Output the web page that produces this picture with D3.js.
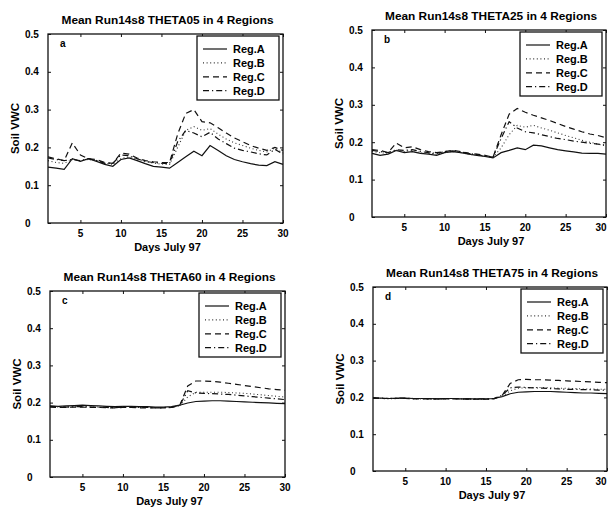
<!DOCTYPE html>
<html>
<head>
<meta charset="utf-8">
<script src="https://cdn.jsdelivr.net/npm/d3@7"></script>
<style>
  html, body { margin: 0; padding: 0; background: #fff; }
  svg { display: block; }
  text { font-family: "Liberation Sans", Arial, Helvetica, sans-serif; fill: #000; }
</style>
</head>
<body>
<svg id="chart" width="608" height="512"></svg>
<script>
// Days of July 1997
const days = [1,2,3,4,5,6,7,8,9,10,11,12,13,14,15,16,17,18,19,20,21,22,23,24,25,26,27,28,29,30];

const regionNames = ["Reg.A", "Reg.B", "Reg.C", "Reg.D"];
const xTicks = [5, 10, 15, 20, 25, 30];
const yTicks = [0, 0.1, 0.2, 0.3, 0.4, 0.5];
const yTickLabels = ["0", "0.1", "0.2", "0.3", "0.4", "0.5"];

// THETA05 – mean soil VWC per region
const theta05RegA = [0.148,0.145,0.142,0.170,0.163,0.170,0.163,0.155,0.150,0.168,0.172,0.165,0.157,0.150,0.148,0.145,0.160,0.175,0.190,0.178,0.205,0.192,0.178,0.168,0.162,0.157,0.153,0.152,0.162,0.155];
const theta05RegB = [0.165,0.160,0.158,0.168,0.165,0.168,0.165,0.158,0.155,0.170,0.175,0.170,0.163,0.158,0.156,0.155,0.200,0.245,0.255,0.245,0.250,0.235,0.222,0.212,0.205,0.198,0.192,0.188,0.198,0.185];
const theta05RegC = [0.175,0.170,0.165,0.212,0.180,0.170,0.168,0.160,0.158,0.185,0.182,0.172,0.165,0.162,0.160,0.160,0.235,0.290,0.300,0.268,0.265,0.252,0.238,0.225,0.215,0.205,0.198,0.192,0.200,0.192];
const theta05RegD = [0.172,0.168,0.165,0.168,0.165,0.170,0.165,0.158,0.158,0.180,0.178,0.170,0.163,0.160,0.158,0.157,0.215,0.245,0.238,0.228,0.240,0.222,0.210,0.198,0.192,0.188,0.183,0.180,0.195,0.182];

// THETA25
const theta25RegA = [0.170,0.165,0.168,0.178,0.172,0.175,0.170,0.168,0.165,0.172,0.175,0.172,0.168,0.165,0.162,0.158,0.172,0.178,0.185,0.180,0.192,0.190,0.185,0.180,0.177,0.174,0.171,0.170,0.170,0.168];
const theta25RegB = [0.175,0.172,0.170,0.178,0.175,0.178,0.172,0.170,0.168,0.172,0.175,0.172,0.168,0.165,0.162,0.160,0.185,0.220,0.245,0.240,0.245,0.238,0.232,0.225,0.218,0.212,0.205,0.200,0.195,0.190];
const theta25RegC = [0.180,0.178,0.172,0.198,0.185,0.188,0.180,0.175,0.172,0.175,0.178,0.175,0.170,0.168,0.165,0.160,0.220,0.275,0.290,0.280,0.272,0.265,0.258,0.250,0.242,0.235,0.228,0.222,0.218,0.212];
const theta25RegD = [0.178,0.175,0.172,0.180,0.178,0.180,0.175,0.172,0.170,0.175,0.177,0.174,0.170,0.167,0.163,0.160,0.210,0.255,0.238,0.228,0.225,0.220,0.215,0.210,0.207,0.203,0.200,0.197,0.195,0.192];

// THETA60
const theta60RegA = [0.191,0.190,0.191,0.192,0.193,0.192,0.191,0.190,0.189,0.190,0.190,0.189,0.189,0.188,0.188,0.189,0.193,0.199,0.203,0.204,0.205,0.205,0.204,0.203,0.202,0.201,0.200,0.199,0.198,0.197];
const theta60RegB = [0.189,0.188,0.188,0.189,0.189,0.188,0.188,0.187,0.187,0.188,0.188,0.187,0.187,0.187,0.187,0.188,0.192,0.215,0.228,0.228,0.228,0.228,0.227,0.226,0.225,0.223,0.221,0.219,0.217,0.215];
const theta60RegC = [0.188,0.187,0.187,0.188,0.188,0.187,0.187,0.186,0.186,0.187,0.187,0.186,0.186,0.186,0.186,0.187,0.192,0.245,0.258,0.258,0.257,0.255,0.252,0.249,0.246,0.243,0.240,0.237,0.235,0.233];
const theta60RegD = [0.190,0.189,0.188,0.189,0.189,0.188,0.187,0.187,0.186,0.188,0.188,0.187,0.187,0.186,0.186,0.187,0.192,0.232,0.226,0.225,0.224,0.223,0.222,0.220,0.218,0.216,0.214,0.212,0.210,0.208];

// THETA75
const theta75RegA = [0.198,0.198,0.197,0.198,0.198,0.197,0.197,0.197,0.196,0.197,0.197,0.196,0.196,0.196,0.196,0.197,0.202,0.210,0.214,0.215,0.216,0.216,0.216,0.215,0.214,0.213,0.212,0.212,0.211,0.210];
const theta75RegB = [0.197,0.197,0.196,0.197,0.197,0.196,0.196,0.196,0.195,0.196,0.196,0.195,0.195,0.195,0.195,0.196,0.202,0.218,0.225,0.226,0.227,0.227,0.226,0.225,0.225,0.224,0.223,0.223,0.222,0.222];
const theta75RegC = [0.198,0.197,0.197,0.197,0.197,0.196,0.196,0.196,0.196,0.196,0.196,0.196,0.195,0.195,0.195,0.196,0.205,0.238,0.248,0.249,0.248,0.248,0.247,0.246,0.245,0.244,0.243,0.242,0.241,0.240];
const theta75RegD = [0.199,0.198,0.197,0.198,0.198,0.197,0.197,0.196,0.196,0.197,0.197,0.196,0.196,0.196,0.196,0.197,0.206,0.226,0.228,0.227,0.226,0.225,0.224,0.223,0.222,0.222,0.221,0.221,0.220,0.220];

const panels = [
  { title: "Mean Run14s8 THETA05 in 4 Regions", tag: "a", series: [theta05RegA, theta05RegB, theta05RegC, theta05RegD] },
  { title: "Mean Run14s8 THETA25 in 4 Regions", tag: "b", series: [theta25RegA, theta25RegB, theta25RegC, theta25RegD] },
  { title: "Mean Run14s8 THETA60 in 4 Regions", tag: "c", series: [theta60RegA, theta60RegB, theta60RegC, theta60RegD] },
  { title: "Mean Run14s8 THETA75 in 4 Regions", tag: "d", series: [theta75RegA, theta75RegB, theta75RegC, theta75RegD] }
];

// Plot boxes (pixels): left, top, right, bottom
const boxes = [
  { l: 48,  t: 34,  r: 283, b: 223 },
  { l: 372, t: 30,  r: 606, b: 217 },
  { l: 50,  t: 291, r: 285, b: 477 },
  { l: 373, t: 287, r: 607, b: 471 }
];

// Line styles per region: solid, dotted, dashed, dash-dot
const dashes = [null, "1,2.6", "6,4", "6,3,1.2,3"];
const strokes = ["#111", "#333", "#111", "#111"];

const svg = d3.select("#chart");
const W = 608;

panels.forEach((p, i) => {
  const bx = boxes[i];
  const g = svg.append("g");

  const x = d3.scaleLinear().domain([1, 30]).range([bx.l, bx.r]);
  const y = d3.scaleLinear().domain([0, 0.5]).range([bx.b, bx.t]);

  // series
  const line = d3.line().x((d, k) => x(days[k])).y(d => y(d));
  p.series.forEach((s, k) => {
    g.append("path")
      .datum(s)
      .attr("d", line)
      .attr("fill", "none")
      .attr("stroke", strokes[k])
      .attr("stroke-width", k === 1 ? 1.1 : 1.2)
      .attr("stroke-dasharray", dashes[k]);
  });

  // axes with inward ticks on all four sides
  const tickLen = 3;
  const xAxis = d3.axisBottom(x).tickValues(xTicks).tickSize(-tickLen).tickFormat("");
  const yAxis = d3.axisLeft(y).tickValues(yTicks).tickSize(-tickLen).tickFormat("");
  const xTop = d3.axisTop(x).tickValues(xTicks).tickSize(-tickLen).tickFormat("");
  const yRight = d3.axisRight(y).tickValues(yTicks).tickSize(-tickLen).tickFormat("");

  [[xAxis, `translate(0,${bx.b})`], [xTop, `translate(0,${bx.t})`],
   [yAxis, `translate(${bx.l},0)`], [yRight, `translate(${bx.r},0)`]].forEach(([ax, tr]) => {
    const a = g.append("g").attr("transform", tr).call(ax);
    a.select(".domain").remove();
    a.selectAll("line").attr("stroke", "#111").attr("stroke-width", 1);
  });

  g.append("rect")
    .attr("x", bx.l).attr("y", bx.t)
    .attr("width", bx.r - bx.l).attr("height", bx.b - bx.t)
    .attr("fill", "none").attr("stroke", "#111").attr("stroke-width", 1.3);

  // tick labels
  g.selectAll(".xl").data(xTicks).join("text")
    .attr("x", d => Math.min(x(d), W - 7))
    .attr("y", bx.b + 14)
    .attr("text-anchor", "middle")
    .style("font-size", "10px").style("font-weight", "bold")
    .text(d => d);

  g.selectAll(".yl").data(yTicks).join("text")
    .attr("x", bx.l - 23).attr("y", d => y(d) + 3.5)
    .attr("text-anchor", "start")
    .style("font-size", "10px").style("font-weight", "bold")
    .text((d, k) => yTickLabels[k]);

  // titles
  g.append("text")
    .attr("x", (bx.l + bx.r) / 2 + 2).attr("y", bx.t - 10)
    .attr("text-anchor", "middle")
    .attr("textLength", 212).attr("lengthAdjust", "spacingAndGlyphs")
    .style("font-size", "11px").style("font-weight", "bold")
    .text(p.title);

  g.append("text")
    .attr("x", (bx.l + bx.r) / 2 + 2).attr("y", bx.b + 28)
    .attr("text-anchor", "middle")
    .style("font-size", "11px").style("font-weight", "bold")
    .text("Days July 97");

  g.append("text")
    .attr("transform", `translate(${bx.l - 29},${(bx.t + bx.b) / 2}) rotate(-90)`)
    .attr("text-anchor", "middle")
    .style("font-size", "11.5px").style("font-weight", "bold")
    .text("Soil VWC");

  g.append("text")
    .attr("x", bx.l + 12).attr("y", bx.t + 13)
    .style("font-size", "10px").style("font-weight", "bold")
    .text(p.tag);

  // legend
  const lw = 82, lh = 64;
  const lx = bx.r - 4 - lw, ly = bx.t + 2;
  const lg = g.append("g");
  lg.append("rect")
    .attr("x", lx).attr("y", ly).attr("width", lw).attr("height", lh)
    .attr("fill", "#fff").attr("stroke", "#111").attr("stroke-width", 1.3);
  regionNames.forEach((name, k) => {
    const yy = ly + 13 + k * 13.9;
    lg.append("line")
      .attr("x1", lx + 6).attr("x2", lx + 30)
      .attr("y1", yy).attr("y2", yy)
      .attr("stroke", strokes[k]).attr("stroke-width", 1.2)
      .attr("stroke-dasharray", dashes[k]);
    lg.append("text")
      .attr("x", lx + 36).attr("y", yy + 4)
      .style("font-size", "11px").style("font-weight", "bold")
      .text(name);
  });
});
</script>
</body>
</html>
